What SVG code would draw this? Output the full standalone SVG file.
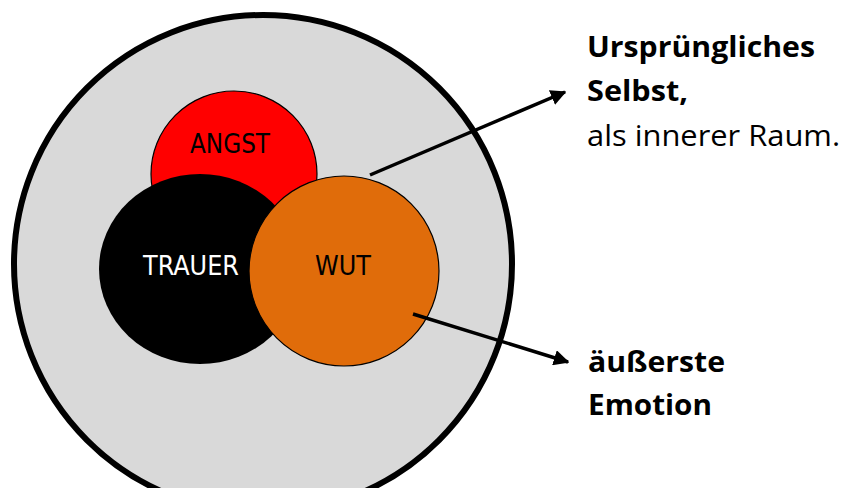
<svg xmlns="http://www.w3.org/2000/svg" width="842" height="488" viewBox="0 0 842 488">
<defs>
<style>
.lbl{font-family:"DejaVu Sans Condensed","DejaVu Sans",sans-serif;font-stretch:condensed;font-size:26.5px}
.side{font-family:"Open Sans","Noto Sans",sans-serif;font-size:29px;fill:#000}
.b{font-weight:bold}
.conn{stroke:#000;stroke-width:3.5;fill:none;marker-end:url(#ah)}
</style>
<marker id="ah" viewBox="0 0 10 10" refX="9" refY="5" markerWidth="4.5" markerHeight="4.5" orient="auto" markerUnits="strokeWidth">
<path d="M0,0 L10,5 L0,10 z" fill="#000"/>
</marker>
</defs>
<rect width="842" height="488" fill="#fff"/>
<g id="selbst">
<circle cx="263" cy="264" r="249" fill="#d9d9d9" stroke="#000" stroke-width="6"/>
</g>
<g id="angst">
<circle cx="234" cy="174" r="83" fill="#ff0000" stroke="#000" stroke-width="1.2"/>
<text class="lbl" x="190" y="153" fill="#000" textLength="80" lengthAdjust="spacingAndGlyphs">ANGST</text>
</g>
<g id="trauer">
<ellipse cx="200" cy="269" rx="101" ry="95" fill="#000"/>
<text class="lbl" x="143" y="275" fill="#fff" textLength="96" lengthAdjust="spacingAndGlyphs">TRAUER</text>
</g>
<g id="wut">
<circle cx="344" cy="271" r="95" fill="#e06c0a" stroke="#000" stroke-width="1.2"/>
<text class="lbl" x="315" y="275" fill="#000" textLength="56" lengthAdjust="spacingAndGlyphs">WUT</text>
</g>
<g id="connectors">
<line class="conn" x1="370" y1="175" x2="565" y2="92"/>
<line class="conn" x1="413" y1="314" x2="568" y2="362"/>
</g>
<g id="label-selbst">
<text class="side b" x="587" y="57" textLength="228" lengthAdjust="spacingAndGlyphs">Ursprüngliches</text>
<text class="side b" x="587" y="101" textLength="101" lengthAdjust="spacingAndGlyphs">Selbst,</text>
<text class="side" x="587" y="146" textLength="253" lengthAdjust="spacingAndGlyphs">als innerer Raum.</text>
</g>
<g id="label-emotion">
<text class="side b" x="588" y="372" textLength="137" lengthAdjust="spacingAndGlyphs">äußerste</text>
<text class="side b" x="588" y="415" textLength="124" lengthAdjust="spacingAndGlyphs">Emotion</text>
</g>
</svg>
